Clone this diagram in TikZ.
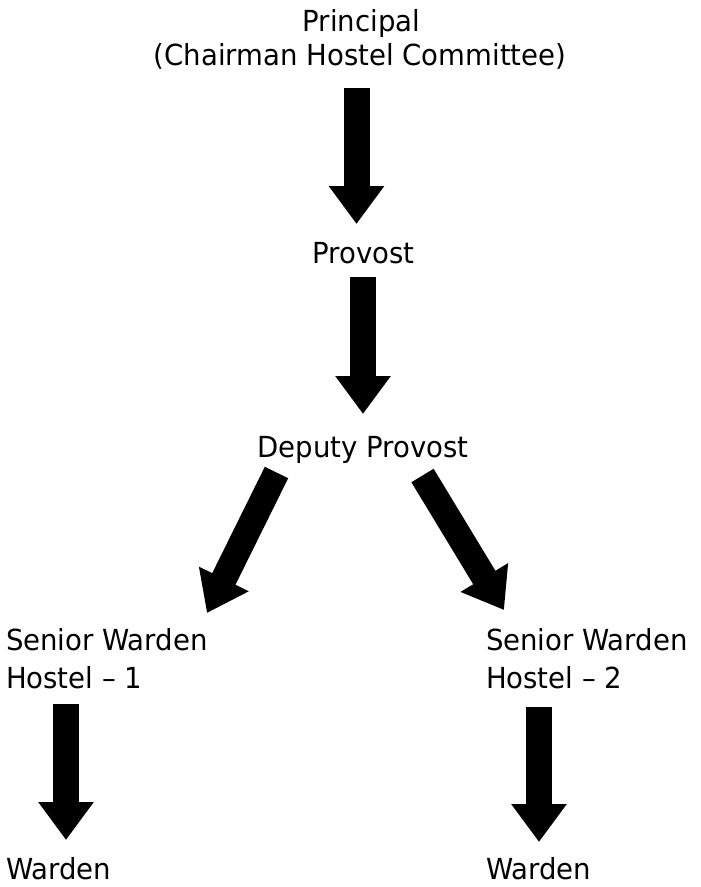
\documentclass[tikz,border=0pt]{standalone}
\usepackage{fontspec}
\setmainfont{DejaVu Sans}[FakeStretch=0.95]
\usetikzlibrary{arrows.meta}
\tikzset{
  lbl/.style={inner sep=0pt, outer sep=0pt, font=\fontsize{29}{34}\selectfont},
  bigarrow/.style={line width=26pt, draw=black, -{Triangle[width=53pt,length=38pt]}}
}
\begin{document}
\begin{tikzpicture}[x=1pt,y=-1pt]
\useasboundingbox (0,0) rectangle (701,887);
% labels
\node[lbl, anchor=base] (principal) at (361.5,31.5) {Principal};
\node[lbl, anchor=base] (chairman) at (360,65.5) {(Chairman Hostel Committee)};
\node[lbl, anchor=base] (provost) at (363.5,263) {Provost};
\node[lbl, anchor=base] (deputy) at (363,457) {Deputy Provost};
\node[lbl, anchor=base west] (swa) at (6,650.5) {Senior Warden};
\node[lbl, anchor=base west] (swb) at (6,688.5) {Hostel – 1};
\node[lbl, anchor=base west] (swc) at (486,650.5) {Senior Warden};
\node[lbl, anchor=base west] (swd) at (486,688.5) {Hostel – 2};
\node[lbl, anchor=base west] (wa) at (6,879.5) {Warden};
\node[lbl, anchor=base west] (wb) at (486,879.5) {Warden};
% arrow end points
\coordinate (a1s) at (356.5,88);   \coordinate (a1e) at (356.5,224);
\coordinate (a2s) at (363,277);    \coordinate (a2e) at (363,414);
\coordinate (a3s) at (276.5,472.5);\coordinate (a3e) at (207,613);
\coordinate (a4s) at (422.5,475.5);\coordinate (a4e) at (504,610);
\coordinate (a5s) at (66,704);     \coordinate (a5e) at (66,840);
\coordinate (a6s) at (539,707);    \coordinate (a6e) at (539,842);
% arrows
\draw[bigarrow] (a1s) -- (a1e);
\draw[bigarrow] (a2s) -- (a2e);
\draw[bigarrow] (a3s) -- (a3e);
\draw[bigarrow] (a4s) -- (a4e);
\draw[bigarrow] (a5s) -- (a5e);
\draw[bigarrow] (a6s) -- (a6e);
\end{tikzpicture}
\end{document}
